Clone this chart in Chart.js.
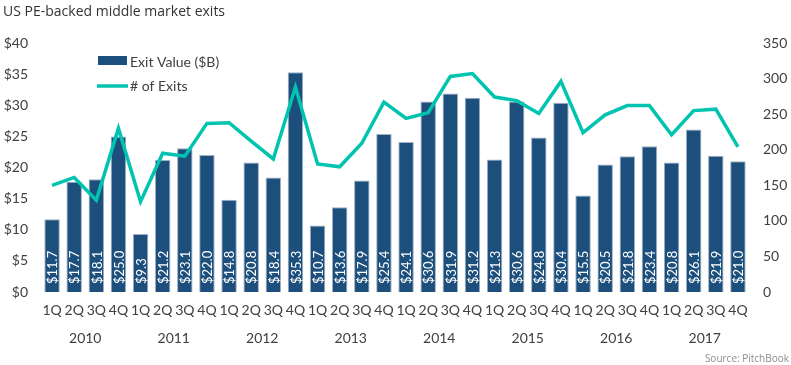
<!DOCTYPE html>
<html>
<head>
<meta charset="utf-8">
<script src="https://cdn.jsdelivr.net/npm/chart.js@4/dist/chart.umd.min.js"></script>
<style>
  html, body { margin: 0; padding: 0; background: #ffffff; }
  #wrap { width: 791px; height: 365px; position: relative; }
</style>
</head>
<body>
<div id="wrap"><canvas id="c" width="791" height="365"></canvas></div>
<script>
// ---- Data ----
const quarterLabels = ['1Q','2Q','3Q','4Q','1Q','2Q','3Q','4Q','1Q','2Q','3Q','4Q','1Q','2Q','3Q','4Q',
                       '1Q','2Q','3Q','4Q','1Q','2Q','3Q','4Q','1Q','2Q','3Q','4Q','1Q','2Q','3Q','4Q'];
const yearLabels = ['2010','2011','2012','2013','2014','2015','2016','2017'];
const exitValue = [11.7, 17.7, 18.1, 25.0, 9.3, 21.2, 23.1, 22.0, 14.8, 20.8, 18.4, 35.3,
                   10.7, 13.6, 17.9, 25.4, 24.1, 30.6, 31.9, 31.2, 21.3, 30.6, 24.8, 30.4,
                   15.5, 20.5, 21.8, 23.4, 20.8, 26.1, 21.9, 21.0];
const exitCount = [150, 161, 129, 230, 127, 195, 191, 237, 238, 212, 187, 288,
                   180, 176, 209, 267, 244, 252, 303, 307, 274, 269, 251, 296,
                   224, 249, 262, 262, 221, 255, 257, 204];
const leftTicks = [0, 5, 10, 15, 20, 25, 30, 35, 40];
const rightTicks = [0, 50, 100, 150, 200, 250, 300, 350];
const titleText = 'US PE-backed middle market exits';
const sourceText = 'Source: PitchBook';
const seriesNames = ['Exit Value ($B)', '# of Exits'];

const BAR_COLOR = '#1c4f7c';
const LINE_COLOR = '#00c4b0';
const TEXT_COLOR = '#404040';

const extras = {
  id: 'extras',
  afterDatasetsDraw(chart) {
    const ctx = chart.ctx;
    const x = chart.scales.x;
    const yl = chart.scales.y;
    // bar value labels (rotated)
    const meta = chart.getDatasetMeta(1);
    ctx.save();
    ctx.fillStyle = '#ffffff';
    ctx.font = '13px Lato';
    ctx.textAlign = 'left';
    ctx.textBaseline = 'middle';
    meta.data.forEach((bar, i) => {
      ctx.save();
      ctx.translate(bar.x, yl.getPixelForValue(0) - 8);
      ctx.rotate(-Math.PI / 2);
      ctx.fillText('$' + exitValue[i].toFixed(1), 0, 1);
      ctx.restore();
    });
    ctx.restore();
    // line over bars is handled by order; redraw nothing else
  },
  afterDraw(chart) {
    const ctx = chart.ctx;
    const x = chart.scales.x;
    ctx.save();
    // title
    ctx.fillStyle = '#333333';
    ctx.font = '14px "Open Sans"';
    ctx.textAlign = 'left';
    ctx.textBaseline = 'alphabetic';
    ctx.fillText(titleText, 3, 16);
    // year labels
    ctx.fillStyle = TEXT_COLOR;
    ctx.font = '14px Lato';
    ctx.textAlign = 'center';
    ctx.textBaseline = 'middle';
    yearLabels.forEach((yr, k) => {
      const px = (x.getPixelForValue(k * 4 + 1) + x.getPixelForValue(k * 4 + 2)) / 2;
      ctx.fillText(yr, px, 338);
    });
    // legend
    ctx.fillStyle = BAR_COLOR;
    ctx.fillRect(98, 56, 29, 9);
    ctx.strokeStyle = LINE_COLOR;
    ctx.lineWidth = 3.5;
    ctx.beginPath();
    ctx.moveTo(97, 86);
    ctx.lineTo(128, 86);
    ctx.stroke();
    ctx.fillStyle = TEXT_COLOR;
    ctx.font = '14px Lato';
    ctx.textAlign = 'left';
    ctx.fillText(seriesNames[0], 130, 62);
    ctx.fillText(seriesNames[1], 130, 86);
    // source
    ctx.fillStyle = '#8c8c8c';
    ctx.font = '10px "Open Sans"';
    ctx.textAlign = 'right';
    ctx.fillText(sourceText, 789, 359);
    ctx.restore();
  }
};

new Chart(document.getElementById('c'), {
  data: {
    labels: quarterLabels,
    datasets: [
      {
        type: 'line',
        label: seriesNames[1],
        data: exitCount,
        yAxisID: 'y2',
        borderColor: LINE_COLOR,
        borderWidth: 3.5,
        pointRadius: 0,
        tension: 0,
        fill: false,
        order: 0
      },
      {
        type: 'bar',
        label: seriesNames[0],
        data: exitValue,
        yAxisID: 'y',
        backgroundColor: BAR_COLOR,
        borderColor: '#9db0c4',
        borderWidth: 1,
        categoryPercentage: 1.0,
        barPercentage: 0.70,
        order: 1
      }
    ]
  },
  options: {
    responsive: false,
    animation: false,
    devicePixelRatio: 1,
    layout: { padding: { top: 43, left: 0, right: 0, bottom: 0 } },
    plugins: {
      legend: { display: false },
      tooltip: { enabled: false },
      title: { display: false }
    },
    scales: {
      x: {
        offset: true,
        grid: { display: false, drawTicks: false },
        border: { display: false },
        ticks: { color: TEXT_COLOR, font: { family: 'Lato', size: 14 }, padding: 10, maxRotation: 0, autoSkip: false },
        afterFit(s) { s.height = 73; }
      },
      y: {
        position: 'left',
        min: 0, max: 40,
        afterBuildTicks(s) { s.ticks = leftTicks.map(v => ({ value: v })); },
        grid: { display: false, drawTicks: false },
        border: { display: false },
        ticks: { color: TEXT_COLOR, font: { family: 'Lato', size: 14 }, padding: 13, callback: v => '$' + v },
        afterFit(s) { s.width = 41; }
      },
      y2: {
        position: 'right',
        min: 0, max: 350,
        afterBuildTicks(s) { s.ticks = rightTicks.map(v => ({ value: v })); },
        grid: { display: false, drawTicks: false },
        border: { display: false },
        ticks: { color: TEXT_COLOR, font: { family: 'Lato', size: 14 }, padding: 14 },
        afterFit(s) { s.width = 42; }
      }
    }
  },
  plugins: [extras]
});
</script>
</body>
</html>
